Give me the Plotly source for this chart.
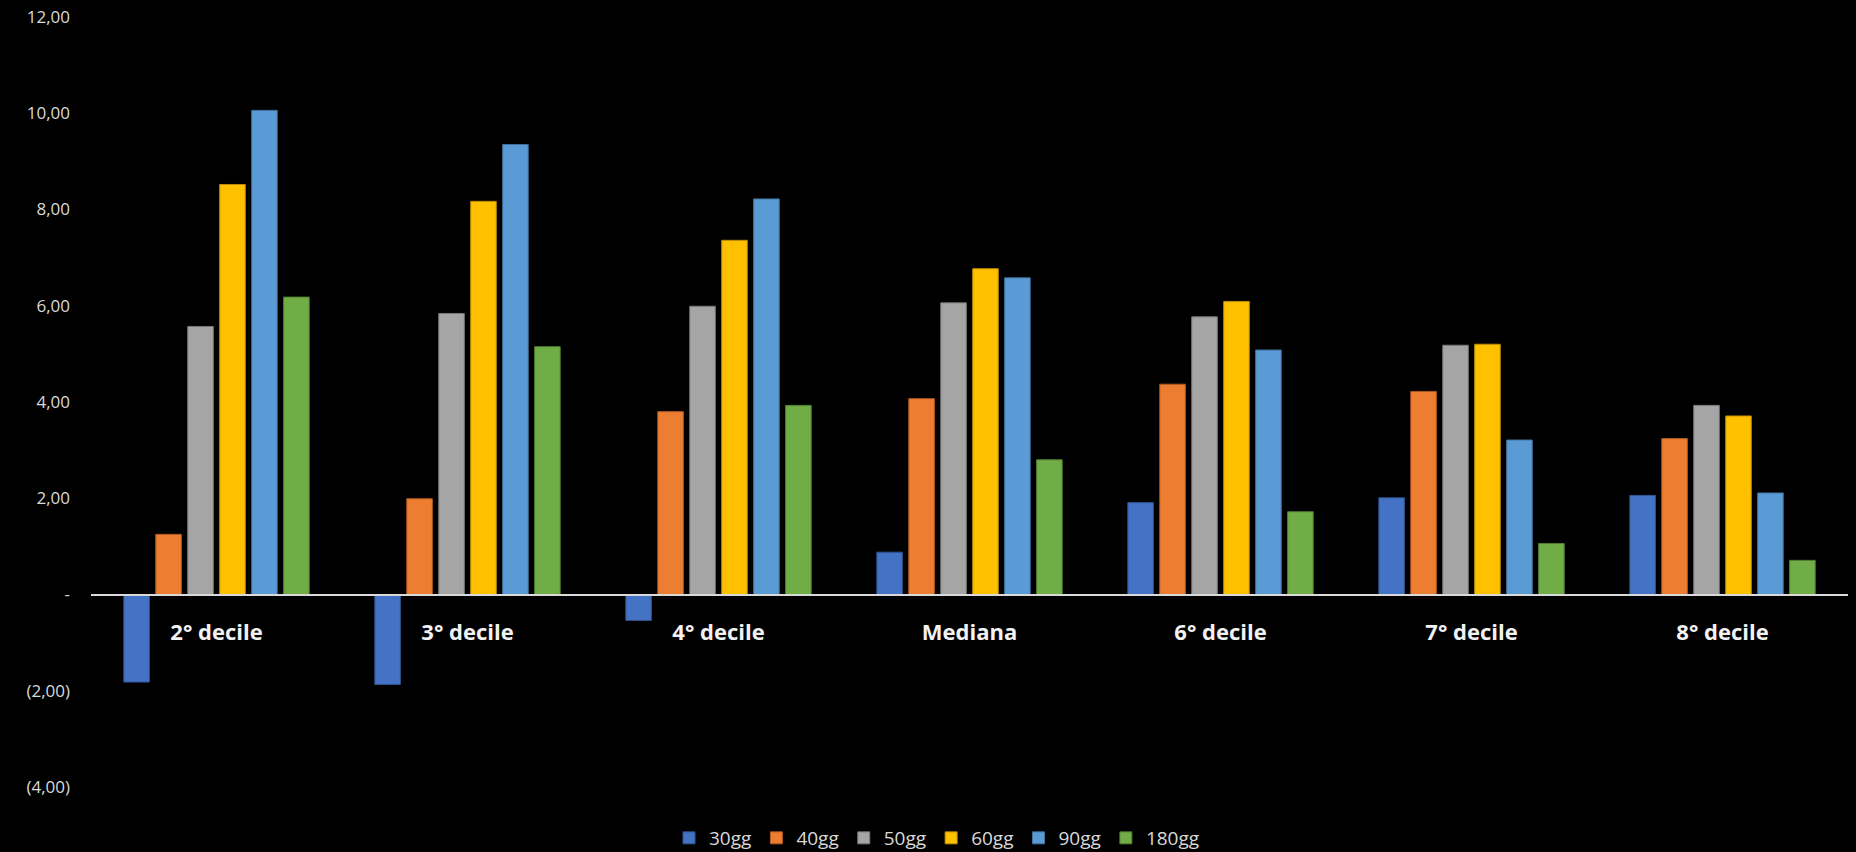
import plotly.graph_objects as go

categories = ["2° decile", "3° decile", "4° decile", "Mediana", "6° decile", "7° decile", "8° decile"]
series_names = ["30gg", "40gg", "50gg", "60gg", "90gg", "180gg"]
v30 = [-1.82, -1.87, -0.54, 0.88, 1.91, 2.01, 2.06]
v40 = [1.25, 1.99, 3.80, 4.07, 4.37, 4.22, 3.24]
v50 = [5.57, 5.84, 5.99, 6.06, 5.77, 5.18, 3.93]
v60 = [8.52, 8.17, 7.36, 6.77, 6.09, 5.20, 3.71]
v90 = [10.06, 9.35, 8.22, 6.58, 5.08, 3.21, 2.11]
v180 = [6.18, 5.15, 3.93, 2.80, 1.72, 1.06, 0.71]
series_values = [v30, v40, v50, v60, v90, v180]
colors = ["#4472C4", "#ED7D31", "#A5A5A5", "#FFC000", "#5B9BD5", "#70AD47"]
edge_colors = ["#2F528F", "#AE5A21", "#787878", "#BC8C00", "#41719C", "#507E32"]

y_tickvals = [-4, -2, 0, 2, 4, 6, 8, 10, 12]
y_ticktext = ["(4,00)", "(2,00)", "-", "2,00", "4,00", "6,00", "8,00", "10,00", "12,00"]

fig = go.Figure()
for name, vals, c, ec in zip(series_names, series_values, colors, edge_colors):
    fig.add_trace(go.Bar(x=categories, y=vals, name=name,
                         marker=dict(color=c, line=dict(color=ec, width=1))))

W, H = 1856, 852
ml, mr, mt, mb = 91, 8, 17, 65

fig.update_layout(
    width=W, height=H,
    margin=dict(l=ml, r=mr, t=mt, b=mb, autoexpand=False),
    paper_bgcolor="black", plot_bgcolor="black",
    barmode="group", bargap=0.236, bargroupgap=0.2,
    font=dict(family="Open Sans", color="#D9D9D9"),
    legend=dict(orientation="h", x=(937 - ml) / (W - ml - mr), xanchor="center",
                y=-51 / (H - mt - mb), yanchor="middle",
                font=dict(size=19, color="#D9D9D9"), itemwidth=30,
                bgcolor="rgba(0,0,0,0)"),
    xaxis=dict(anchor="free", position=0.25, showline=True, linecolor="#D9D9D9",
               linewidth=2, ticks="", showgrid=False, zeroline=False,
               tickfont=dict(size=22, color="#F2F2F2", family="Open Sans", weight="bold"),
               ticklabelstandoff=18),
    yaxis=dict(range=[-4, 12], tickvals=y_tickvals, ticktext=y_ticktext,
               showgrid=False, zeroline=False, showline=False, ticks="",
               tickfont=dict(size=17, color="#D9D9D9"), ticklabelstandoff=20),
)

fig.write_html("out.html")
